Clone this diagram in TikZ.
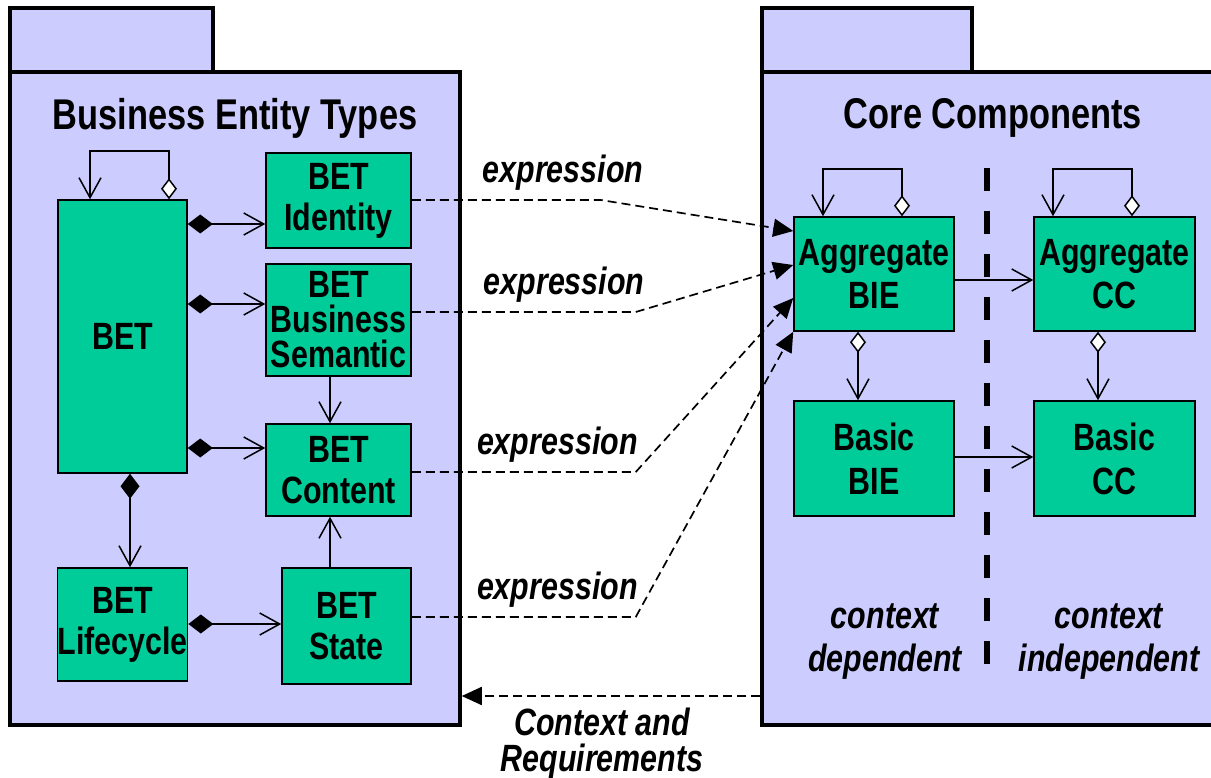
\documentclass[tikz,border=0pt]{standalone}
\usepackage{fontspec}
\setmainfont{Liberation Sans}[FakeStretch=0.8]
\usetikzlibrary{shapes,arrows.meta}
\definecolor{lavender}{RGB}{204,204,255}
\definecolor{cgreen}{RGB}{0,204,153}

\begin{document}
\begin{tikzpicture}[x=1pt,y=-1pt]
            % package diagram, business entity types against core components
            \tikzstyle{pkg} = [draw,rectangle,fill=lavender,line width=3.5pt,inner sep=0pt];
            \tikzstyle{block} = [draw,rectangle,fill=cgreen,line width=1.5pt,inner sep=0pt,align=center,font=\fontsize{38}{41}\selectfont\bfseries];
            \tikzstyle{title} = [font=\fontsize{43}{43}\selectfont\bfseries];
            \tikzstyle{lbl} = [inner sep=2pt,align=center,font=\fontsize{38}{36}\selectfont\bfseries\itshape];
            \tikzstyle{comp} = [line width=1.5pt,{Diamond[length=25pt,width=19pt]}-{Straight Barb[length=20pt,width=22pt]}];
            \tikzstyle{aggr} = [line width=1.5pt,{Diamond[fill=white,length=21pt,width=16pt]}-{Straight Barb[length=20pt,width=22pt]}];
            \tikzstyle{assoc} = [line width=1.5pt,-{Straight Barb[length=20pt,width=22pt]}];
            \tikzstyle{dep} = [line width=1.7pt,dash pattern=on 9pt off 5pt,-{Triangle[length=20pt,width=18pt]}];

            \path[use as bounding box,clip] (0,0) rectangle (1211,778);

            \node[pkg,minimum width=203pt,minimum height=64pt] (bet_tab) at (111.5,40) {};
            \node[pkg,minimum width=450pt,minimum height=653pt] (bet_pkg) at (235,398.5) {};
            \node[pkg,minimum width=210pt,minimum height=64pt] (cc_tab) at (867,40) {};
            \node[pkg,minimum width=468pt,minimum height=653pt] (cc_pkg) at (996,398.5) {};

            \node[title] (bet_title) at (235,118) {Business Entity Types};
            \node[title] (cc_title) at (993,118) {Core Components};

            \node[block,minimum width=129pt,minimum height=273pt] (bet) at (122.5,336.5) {BET};
            \node[block,minimum width=145pt,minimum height=95pt] (bet_identity) at (338.5,200.5) {BET\\Identity};
            \node[block,minimum width=145pt,minimum height=112pt,font=\fontsize{38}{35}\selectfont\bfseries] (bet_semantic) at (338.5,320) {BET\\Business\\Semantic};
            \node[block,minimum width=145pt,minimum height=92pt] (bet_content) at (338.5,470) {BET\\Content};
            \node[block,minimum width=129pt,minimum height=113pt] (bet_lifecycle) at (122.5,624.5) {BET\\Lifecycle};
            \node[block,minimum width=129pt,minimum height=116pt] (bet_state) at (346.5,626) {BET\\State};

            \node[block,minimum width=160pt,minimum height=114pt,font=\fontsize{38}{43}\selectfont\bfseries] (agg_bie) at (874,274) {Aggregate\\BIE};
            \node[block,minimum width=161pt,minimum height=114pt,font=\fontsize{38}{43}\selectfont\bfseries] (agg_cc) at (1114.5,274) {Aggregate\\CC};
            \node[block,minimum width=160pt,minimum height=115pt,font=\fontsize{38}{44}\selectfont\bfseries] (basic_bie) at (874,458.5) {Basic\\BIE};
            \node[block,minimum width=161pt,minimum height=115pt,font=\fontsize{38}{44}\selectfont\bfseries] (basic_cc) at (1114.5,458.5) {Basic\\CC};

            \node[lbl,font=\fontsize{38}{43}\selectfont\bfseries\itshape] (dep_text) at (885,642) {context\\dependent};
            \node[lbl,font=\fontsize{38}{43}\selectfont\bfseries\itshape] (indep_text) at (1109,642) {context\\independent};

            \draw[line width=6pt,dash pattern=on 23pt off 20pt] (987,168) -- (987,682);

            \draw[aggr] ([xshift=46.5pt]bet.north) -- ++(0,-48) -| ([xshift=-32.5pt]bet.north);
            \draw[comp] (bet.east |- 0,224) -- (bet_identity.west |- 0,224);
            \draw[comp] (bet.east |- 0,304) -- (bet_semantic.west |- 0,304);
            \draw[comp] (bet.east |- 0,448) -- (bet_content.west |- 0,448);
            \draw[comp] (bet.south -| 130,0) -- (bet_lifecycle.north -| 130,0);
            \draw[comp] (bet_lifecycle.east |- 0,624) -- (bet_state.west |- 0,624);
            \draw[assoc] (bet_semantic.south -| 330,0) -- (bet_content.north -| 330,0);
            \draw[assoc] (bet_state.north -| 330,0) -- (bet_content.south -| 330,0);

            \draw[aggr] ([xshift=28pt]agg_bie.north) -- ++(0,-47) -| ([xshift=-51pt]agg_bie.north);
            \draw[aggr] ([xshift=17.5pt]agg_cc.north) -- ++(0,-47) -| ([xshift=-61.5pt]agg_cc.north);
            \draw[assoc] (agg_bie.east |- 0,280) -- (agg_cc.west |- 0,280);
            \draw[assoc] (basic_bie.east |- 0,457) -- (basic_cc.west |- 0,457);
            \draw[aggr] (agg_bie.south -| 858,0) -- (basic_bie.north -| 858,0);
            \draw[aggr] (agg_cc.south -| 1098,0) -- (basic_cc.north -| 1098,0);

            \draw[dep] (bet_identity.east |- 0,200) -- node[lbl,above=7pt,pos=0.8] {expression} ++(189,0) -- (agg_bie.west |- 0,231);
            \draw[dep] (bet_semantic.east |- 0,312) -- node[lbl,above=7pt,pos=0.68] {expression} ++(224,0) -- (agg_bie.west |- 0,265);
            \draw[dep] (bet_content.east |- 0,472) -- node[lbl,above=7pt,pos=0.65] {expression} ++(224,0) -- (agg_bie.west |- 0,298);
            \draw[dep] (bet_state.east |- 0,617) -- node[lbl,above=7pt,pos=0.65] {expression} ++(224,0) -- (agg_bie.south west);

            \draw[dep] (cc_pkg.west |- 0,696) -- node[lbl,below=9pt,pos=0.53] {Context and\\Requirements} (bet_pkg.east |- 0,696);

        \end{tikzpicture}
\end{document}
